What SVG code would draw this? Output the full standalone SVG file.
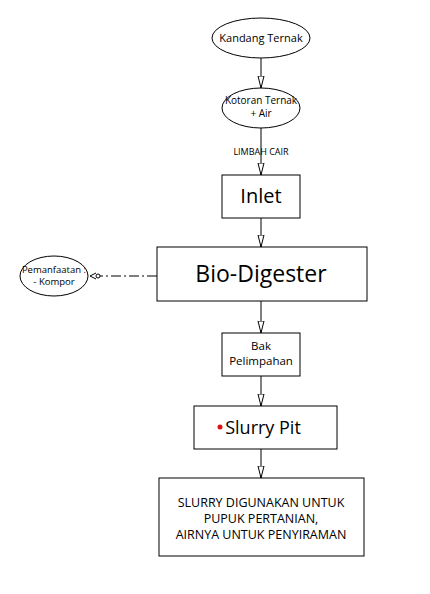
<svg xmlns="http://www.w3.org/2000/svg" width="430" height="594" viewBox="0 0 430 594">
<defs>
<style>
.n{fill:#fff;stroke:#000;stroke-width:1}
.t{font-family:"Open Sans","Noto Sans","Liberation Sans",sans-serif;fill:#000;text-anchor:middle}
.c{stroke:#000;stroke-width:1;fill:none}
</style>
<marker id="ah" markerWidth="14" markerHeight="8" refX="12.5" refY="4" orient="auto" markerUnits="userSpaceOnUse" viewBox="0 0 14 8">
<path d="M0.5,1 L12.5,4 L0.5,7 Z" fill="#fff" stroke="#000" stroke-width="1"/>
</marker>
</defs>
<rect width="430" height="594" fill="#fff"/>
<g id="connectors">
<line class="c" x1="261" y1="58" x2="261" y2="88" marker-end="url(#ah)"/>
<line class="c" x1="261" y1="128" x2="261" y2="175" marker-end="url(#ah)"/>
<line class="c" x1="261" y1="218" x2="261" y2="247" marker-end="url(#ah)"/>
<line class="c" x1="261" y1="301" x2="261" y2="333" marker-end="url(#ah)"/>
<line class="c" x1="261" y1="376" x2="261" y2="406" marker-end="url(#ah)"/>
<line class="c" x1="261" y1="449" x2="261" y2="478" marker-end="url(#ah)"/>
<line class="c" x1="157" y1="276" x2="100" y2="276" stroke-dasharray="10,3,2,3"/>
<path class="c" d="M96,273 L90,276 L96,279"/>
<circle cx="98" cy="276" r="2" fill="#fff" stroke="#000" stroke-width="1"/>
<text class="t" x="261" y="155" font-size="9">LIMBAH CAIR</text>
</g>
<g id="kandang">
<ellipse class="n" cx="261" cy="38" rx="49" ry="20"/>
<text class="t" x="261" y="42" font-size="11">Kandang Ternak</text>
</g>
<g id="kotoran">
<ellipse class="n" cx="261" cy="108" rx="39" ry="20"/>
<text class="t" x="261" y="104" font-size="10">Kotoran Ternak</text>
<text class="t" x="261" y="117" font-size="10">+ Air</text>
</g>
<g id="inlet">
<rect class="n" x="222" y="175" width="78" height="43"/>
<text class="t" x="261" y="203" font-size="20">Inlet</text>
</g>
<g id="biodigester">
<rect class="n" x="157" y="247" width="210" height="54"/>
<text class="t" x="261" y="282" font-size="23">Bio-Digester</text>
</g>
<g id="pemanfaatan">
<ellipse class="n" cx="54" cy="276" rx="34" ry="20"/>
<text class="t" x="54" y="273" font-size="9.5">Pemanfaatan :</text>
<text class="t" x="54" y="285" font-size="9.5">- Kompor</text>
</g>
<g id="bak">
<rect class="n" x="222" y="333" width="78" height="43"/>
<text class="t" x="261" y="350" font-size="11.5">Bak</text>
<text class="t" x="261" y="365" font-size="11.5">Pelimpahan</text>
</g>
<g id="slurrypit">
<rect class="n" x="194" y="406" width="143" height="43"/>
<circle cx="220" cy="427" r="2.5" fill="#e01010"/>
<text class="t" x="263" y="434" font-size="18">Slurry Pit</text>
</g>
<g id="hasil">
<rect class="n" x="159" y="478" width="205" height="78"/>
<text class="t" x="261" y="507" font-size="12.5">SLURRY DIGUNAKAN UNTUK</text>
<text class="t" x="261" y="523" font-size="12.5">PUPUK PERTANIAN,</text>
<text class="t" x="261" y="539" font-size="12.5">AIRNYA UNTUK PENYIRAMAN</text>
</g>
</svg>
